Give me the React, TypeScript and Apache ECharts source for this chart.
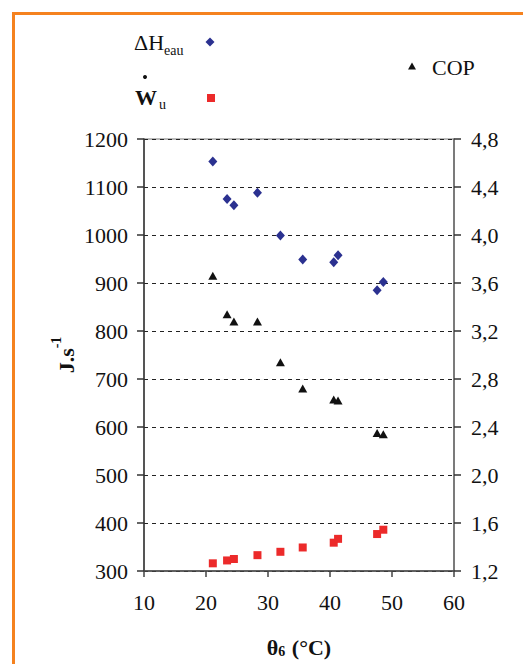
import React, { useEffect, useRef } from "react";
import * as echarts from "echarts";

const theta = [21.1, 23.4, 24.5, 28.3, 32.0, 35.6, 40.6, 41.3, 47.6, 48.6];
const deltaH = [1153, 1075, 1062, 1088, 999, 949, 943, 958, 885, 902];
const wu = [316, 322, 325, 333, 340, 349, 359, 367, 377, 386];
const cop = [3.66, 3.34, 3.28, 3.28, 2.94, 2.72, 2.63, 2.62, 2.35, 2.34];

const FONT = "'Liberation Serif', serif";

export default function App() {
  const ref = useRef<HTMLDivElement>(null);
  useEffect(() => {
    if (!ref.current) return;
    const chart = echarts.init(ref.current, null, { renderer: "svg" });
    const pair = (ys: number[]) => theta.map((x, i) => [x, ys[i]]);
    const txt = { fontFamily: FONT, fill: "#111" };
    chart.setOption({
      animation: false,
      backgroundColor: "#fff",
      textStyle: { fontFamily: FONT },
      grid: {
        left: 144,
        right: 69,
        top: 139,
        bottom: 93,
        show: true,
        borderColor: "#777",
        borderWidth: 1,
      },
      xAxis: {
        type: "value",
        min: 10,
        max: 60,
        interval: 10,
        axisLine: { show: true, lineStyle: { color: "#444", width: 1.5 } },
        axisTick: { show: true, inside: false, length: 6, lineStyle: { color: "#444", width: 1.5 } },
        axisLabel: { fontFamily: FONT, fontSize: 22, color: "#111", margin: 20, formatter: (v: number) => String(v) },
        splitLine: { show: false },
      },
      yAxis: [
        {
          type: "value",
          min: 300,
          max: 1200,
          interval: 100,
          axisLine: { show: true, lineStyle: { color: "#333", width: 1.5 } },
          axisTick: { show: true, inside: false, length: 7, lineStyle: { color: "#333", width: 1.5 } },
          axisLabel: { fontFamily: FONT, fontSize: 22, color: "#111", margin: 16, formatter: (v: number) => String(v) },
          splitLine: { show: true, lineStyle: { color: "#222", type: [4, 4], width: 1 } },
        },
        {
          type: "value",
          min: 1.2,
          max: 4.8,
          interval: 0.4,
          position: "right",
          axisLine: { show: true, lineStyle: { color: "#666", width: 1.5 } },
          axisTick: { show: true, inside: false, length: 7, lineStyle: { color: "#333", width: 1.5 } },
          axisLabel: {
            fontFamily: FONT,
            fontSize: 22,
            color: "#111",
            margin: 17,
            formatter: (v: number) => v.toFixed(1).replace(".", ","),
          },
          splitLine: { show: false },
        },
      ],
      series: [
        {
          name: "ΔHeau",
          type: "scatter",
          yAxisIndex: 0,
          symbol: "diamond",
          symbolSize: [9, 10],
          itemStyle: { color: "#2B3190", opacity: 1 },
          data: pair(deltaH),
        },
        {
          name: "Wu",
          type: "scatter",
          yAxisIndex: 0,
          symbol: "rect",
          symbolSize: 8,
          itemStyle: { color: "#EC2A2A", opacity: 1 },
          data: pair(wu),
        },
        {
          name: "COP",
          type: "scatter",
          yAxisIndex: 1,
          symbol: "triangle",
          symbolSize: [9, 8],
          itemStyle: { color: "#111", opacity: 1 },
          data: pair(cop),
        },
      ],
      graphic: [
        {
          type: "rect",
          shape: { x: 13.5, y: 13.5, width: 700, height: 800 },
          style: { fill: "none", stroke: "#F5821F", lineWidth: 3 },
          silent: true,
        },
        { type: "text", x: 134, y: 42, style: { ...txt, text: "ΔH", fontSize: 22, verticalAlign: "middle" } },
        { type: "text", x: 164, y: 50, style: { ...txt, text: "eau", fontSize: 14, verticalAlign: "middle" } },
        {
          type: "polygon",
          shape: { points: [[210, 37.5], [214.5, 42], [210, 46.5], [205.5, 42]] },
          style: { fill: "#2B3190" },
        },
        { type: "text", x: 135, y: 97, style: { ...txt, text: "W", fontSize: 22, fontWeight: "bold", verticalAlign: "middle" } },
        { type: "circle", shape: { cx: 145, cy: 77, r: 2 }, style: { fill: "#111" } },
        { type: "text", x: 159, y: 104, style: { ...txt, text: "u", fontSize: 14, verticalAlign: "middle" } },
        { type: "rect", shape: { x: 207, y: 94, width: 8, height: 8 }, style: { fill: "#EC2A2A" } },
        {
          type: "polygon",
          shape: { points: [[412, 62.5], [416, 69.5], [408, 69.5]] },
          style: { fill: "#111" },
        },
        { type: "text", x: 432, y: 67, style: { ...txt, text: "COP", fontSize: 22, verticalAlign: "middle" } },
        {
          type: "text",
          x: 299,
          y: 645,
          style: {
            text: "{a|θ}{b|6}{a| (°C)}",
            align: "center",
            verticalAlign: "middle",
            rich: {
              a: { fontFamily: FONT, fontSize: 22, fontWeight: "bold", fill: "#111", lineHeight: 26, verticalAlign: "bottom" },
              b: { fontFamily: FONT, fontSize: 14, fontWeight: "bold", fill: "#111", lineHeight: 26, verticalAlign: "bottom", padding: [0, 1, 0, 0] },
            },
          },
        },
        {
          type: "text",
          x: 63,
          y: 355,
          rotation: Math.PI / 2,
          style: {
            text: "{a|J.s}{b|-1}",
            align: "center",
            verticalAlign: "middle",
            rich: {
              a: { fontFamily: FONT, fontSize: 22, fontWeight: "bold", fill: "#111", lineHeight: 28, verticalAlign: "bottom" },
              b: { fontFamily: FONT, fontSize: 14, fontWeight: "bold", fill: "#111", lineHeight: 28, verticalAlign: "top" },
            },
          },
        },
      ],
    });
    return () => chart.dispose();
  }, []);
  return <div ref={ref} style={{ width: 523, height: 664, position: "absolute", left: 0, top: 0 }} />;
}
